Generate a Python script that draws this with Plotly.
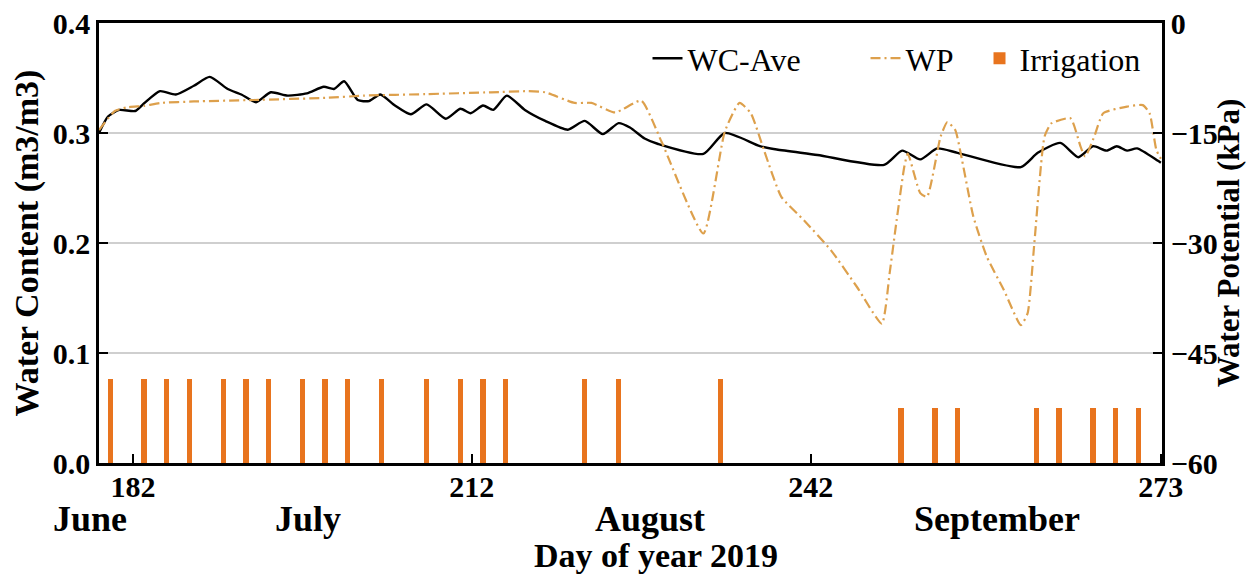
import plotly.graph_objects as go

# ---- data ----
wc_day = [179, 179.8, 180.8, 182.2, 183, 184.4, 185.8, 187.4, 188.8, 190.4, 191.6, 192.9,
          194.2, 195.7, 197.4, 198.9, 199.8, 200.7, 201.9, 202.9, 203.9, 205.2, 206.6,
          208.0, 209.7, 211.0, 211.9, 213.0, 213.9, 215.1, 216.7, 218.5, 220.5, 222.0,
          223.6, 225.0, 226.0, 227.3, 228.5, 232.5, 234.4, 237.5, 239.0, 242.6, 248.5,
          250.1, 251.7, 253.2, 255.0, 260.6, 262.1, 264.1, 265.7, 267.0, 268.2, 269.1,
          270.0, 270.9, 272.7, 273]
wc_ave = [0.300, 0.315, 0.321, 0.320, 0.327, 0.338, 0.335, 0.343, 0.351, 0.340, 0.335, 0.328,
          0.337, 0.334, 0.336, 0.342, 0.340, 0.347, 0.330, 0.329, 0.335, 0.325, 0.317,
          0.326, 0.313, 0.322, 0.318, 0.325, 0.321, 0.334, 0.321, 0.311, 0.303, 0.311,
          0.299, 0.309, 0.305, 0.295, 0.290, 0.281, 0.300, 0.288, 0.285, 0.280, 0.271,
          0.284, 0.276, 0.286, 0.282, 0.269, 0.282, 0.291, 0.278, 0.288, 0.284, 0.288,
          0.284, 0.286, 0.275, 0.273]

wp_day = [179, 180.4, 181.5, 183, 184.5, 187.4, 192.7, 199.2, 202.5, 207.9, 213.7, 217,
          218.5, 221.1, 222.6, 224.7, 227.0, 228.8, 232.5, 234.4, 235.7, 236.7, 237.9,
          239.4, 241.4, 243.8, 246.1, 248.3, 249.0, 249.6, 250.3, 250.6, 251.7, 252.3,
          253.5, 254.1, 254.8, 255.4, 256.4, 257.6, 259.1, 260.6, 261.2, 261.8, 262.7,
          263.3, 265.0, 265.9, 266.3, 267.1, 267.9, 270.0, 271.4, 272.0, 272.6, 273]
wp = [-14.6, -12.0, -11.5, -11.3, -10.9, -10.7, -10.5, -10.2, -9.9, -9.7, -9.45, -9.3,
      -9.45, -10.9, -10.9, -12.2, -10.6, -16.2, -28.7, -14.8, -10.9, -12.3, -17.5,
      -23.7, -26.9, -31.0, -36.0, -41.0, -34.0, -27.0, -19.5, -17.8, -23.2, -23.7,
      -15.5, -13.5, -14.6, -18.7, -26.4, -31.9, -36.4, -41.2, -39.6, -30.0, -15.5,
      -13.7, -13.0, -16.9, -18.2, -15.5, -12.3, -11.4, -11.2, -12.3, -17.3, -18.5]

irr_day = [180, 183, 185, 187, 190, 192, 194, 197, 199, 201, 204, 208, 211, 213, 215,
           222, 225, 234, 250, 253, 255, 262, 264, 267, 269, 271]
irr_val = [0.076] * 18 + [0.05] * 8

x_tickvals = [182, 212, 242, 273]
x_ticktext = ["182", "212", "242", "273"]
left_ticks = [0.0, 0.1, 0.2, 0.3, 0.4]
right_ticks = [-60, -45, -30, -15, 0]
months = ["June", "July", "August", "September"]
month_pos = [-0.0085, 0.1967, 0.5184, 0.8448]

FONT = "Liberation Serif"
ORANGE = "#E8741E"
WPCOL = "#DDA04C"

fig = go.Figure()
fig.add_trace(go.Bar(x=irr_day, y=irr_val, width=0.48, name="Irrigation", legendrank=3,
                     marker=dict(color=ORANGE, line=dict(width=0)), yaxis="y"))
fig.add_trace(go.Scatter(x=wc_day, y=wc_ave, mode="lines", name="WC-Ave", legendrank=1,
                         legendwidth=173,
                         line=dict(color="black", width=2.4, shape="spline", smoothing=0.6),
                         yaxis="y"))
fig.add_trace(go.Scatter(x=wp_day, y=wp, mode="lines", name="WP", legendrank=2,
                         legendwidth=69,
                         line=dict(color=WPCOL, width=2.2, dash="10px,4px,2px,4px",
                                   shape="spline", smoothing=0.5),
                         yaxis="y2"))

annotations = []
for m, p in zip(months, month_pos):
    annotations.append(dict(x=p, y=0, xref="paper", yref="paper", text=m, showarrow=False,
                            xanchor="center", yanchor="middle", yshift=-56,
                            font=dict(family=FONT, size=36, color="black", weight="bold")))
annotations.append(dict(x=0.524, y=0, xref="paper", yref="paper", text="Day of year 2019",
                        showarrow=False, xanchor="center", yanchor="middle", yshift=-92,
                        font=dict(family=FONT, size=34, color="black", weight="bold")))

fig.update_layout(
    width=1238, height=567,
    margin=dict(l=91, r=84, t=15, b=112),
    paper_bgcolor="white", plot_bgcolor="white",
    font=dict(family=FONT, color="black"),
    bargap=0,
    showlegend=True,
    legend=dict(orientation="h", x=0.516, xanchor="left", y=0.982, yanchor="top",
                font=dict(family=FONT, size=32, color="black"),
                bgcolor="rgba(0,0,0,0)", traceorder="normal"),
    annotations=annotations,
    xaxis=dict(range=[179, 273.1], tickvals=x_tickvals, ticktext=x_ticktext,
               ticks="inside", ticklen=9, tickwidth=2, tickcolor="black",
               showline=True, linewidth=2.5, linecolor="black", mirror=True,
               showgrid=False, zeroline=False, automargin=False,
               ticklabeloverflow="allow", ticklabelstandoff=-5,
               tickfont=dict(family=FONT, size=30, color="black", weight="bold")),
    yaxis=dict(range=[0, 0.4], tickvals=left_ticks, tickformat=".1f",
               ticks="inside", ticklen=9, tickwidth=2, tickcolor="black",
               showline=True, linewidth=2.5, linecolor="black", automargin=False,
               ticklabeloverflow="allow",
               showgrid=True, gridcolor="#cfcfcf", gridwidth=1.5, zeroline=False,
               title=dict(text="Water Content (m3/m3)", standoff=10,
                          font=dict(family=FONT, size=34, color="black", weight="bold")),
               tickfont=dict(family=FONT, size=30, color="black", weight="bold")),
    yaxis2=dict(range=[-60, 0], tickvals=right_ticks, overlaying="y", side="right",
                ticks="inside", ticklen=9, tickwidth=2, tickcolor="black",
                showline=True, linewidth=2.5, linecolor="black", automargin=False,
                ticklabeloverflow="allow",
                showgrid=False, zeroline=False,
                title=dict(text="Water Potential (kPa)", standoff=8,
                           font=dict(family=FONT, size=31, color="black", weight="bold")),
                tickfont=dict(family=FONT, size=30, color="black", weight="bold")),
)

fig.write_html("out.html")
